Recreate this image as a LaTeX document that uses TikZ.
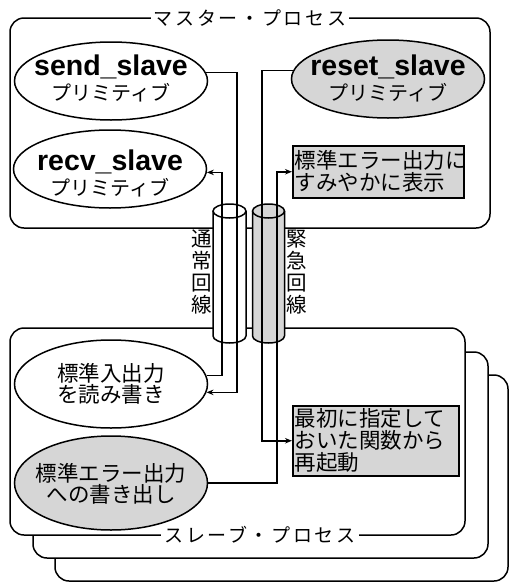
\documentclass[tikz,border=0pt]{standalone}
\usepackage{fontspec}
\setmainfont{Noto Sans CJK JP}
\newfontfamily\lat{Liberation Sans}
\usetikzlibrary{shapes.geometric,arrows.meta}
\begin{document}
\begin{tikzpicture}[x=1pt,y=-1pt, line width=1.5pt,
  proc/.style={draw, rounded corners=14pt, fill=white},
  ell/.style={draw, ellipse, minimum width=193pt, inner sep=0pt},
  shade/.style={fill=black!16},
  note/.style={draw, rectangle, fill=black!16, inner xsep=2pt, inner ysep=0pt, align=left, anchor=north west},
  notefont/.style={font=\fontsize{21.5}{22}\selectfont},
  elltext/.style={align=center, inner sep=0pt, font=\fontsize{21.5}{21.5}\selectfont},
  primtext/.style={align=center, inner sep=0pt, font=\fontsize{20}{25}\selectfont},
  vlabel/.style={align=center, inner sep=0pt, font=\fontsize{20.5}{22}\selectfont},
  arr/.style={-{Stealth[length=7pt,width=5.5pt]}},
  ttl/.style={fill=white, inner xsep=3pt, inner ysep=1pt, font=\fontsize{19}{20}\selectfont\addfontfeature{LetterSpace=14}},
]
\useasboundingbox (0,0) rectangle (510,584);
% slave process stack
\draw[proc] (55,375) rectangle (508,581);
\draw[proc] (33,352) rectangle (488,558);
\draw[proc] (10,328) rectangle (465,535);
% master process
\draw[proc] (10,18) rectangle (490,228);
\node[ttl] (mt) at (250,18) {マスター・プロセス};
\node[ttl] (st) at (260,535) {スレーブ・プロセス};
% cylinders
\draw[fill=white] (213,211) -- (213,336) arc[start angle=180,end angle=0,x radius=16.5,y radius=7] -- (246,211);
\draw[fill=white] (229.5,211) ellipse[x radius=16.5,y radius=7];
\draw[shade] (252.5,211) -- (252.5,336) arc[start angle=180,end angle=0,x radius=16,y radius=7] -- (284.5,211);
\draw[shade] (268.5,211) ellipse[x radius=16,y radius=7];
% line positions
\coordinate (L1) at (222,0);
\coordinate (L2) at (237,0);
\coordinate (R1) at (262,0);
\coordinate (R2) at (277,0);
% nodes
\node[ell, minimum height=78pt] (send) at (111,81) {};
\node[ell, minimum height=78pt] (recv) at (110,169) {};
\node[ell, shade, minimum height=78pt] (reset) at (388,79) {};
\node[ell, minimum height=88pt] (rw) at (111,384) {};
\node[ell, shade, minimum height=94pt] (ew) at (111,483) {};
\node[note, notefont, minimum height=52pt, text width=167pt] (sy) at (292,145) {標準エラー出力に\\すみやかに表示};
\node[note, notefont, minimum height=70pt, text width=162pt] (rs) at (292,405) {最初に指定して\\おいた関数から\\再起動};
% connectors
\draw[arr] (send.5.5) -| (L2 |- rw.-5) -- (rw.-5);
\draw[arr] (rw.5.5) -| (L1 |- recv.-2.4) -- (recv.-2.4);
\draw[arr] (reset.175.8) -| (R1 |- rs.west) -- (rs.west);
\draw[arr] (ew.east) -| (R2 |- sy.west) -- (sy.west);
% texts
\node[primtext] (sendt) at (111,78) {{\lat\bfseries\fontsize{28.5}{28}\selectfont send\_slave}\\プリミティブ};
\node[primtext] (recvt) at (110,173) {{\lat\bfseries\fontsize{28.5}{28}\selectfont recv\_slave}\\プリミティブ};
\node[primtext] (resett) at (388,78) {{\lat\bfseries\fontsize{28.5}{28}\selectfont reset\_slave}\\プリミティブ};
\node[elltext] (rwt) at (111,384) {標準入出力\\を読み書き};
\node[elltext] (ewt) at (111,484) {標準エラー出力\\への書き出し};
\node[vlabel] (nl) at (202,272) {通\\常\\回\\線};
\node[vlabel] (el) at (297,272) {緊\\急\\回\\線};
\end{tikzpicture}
\end{document}
